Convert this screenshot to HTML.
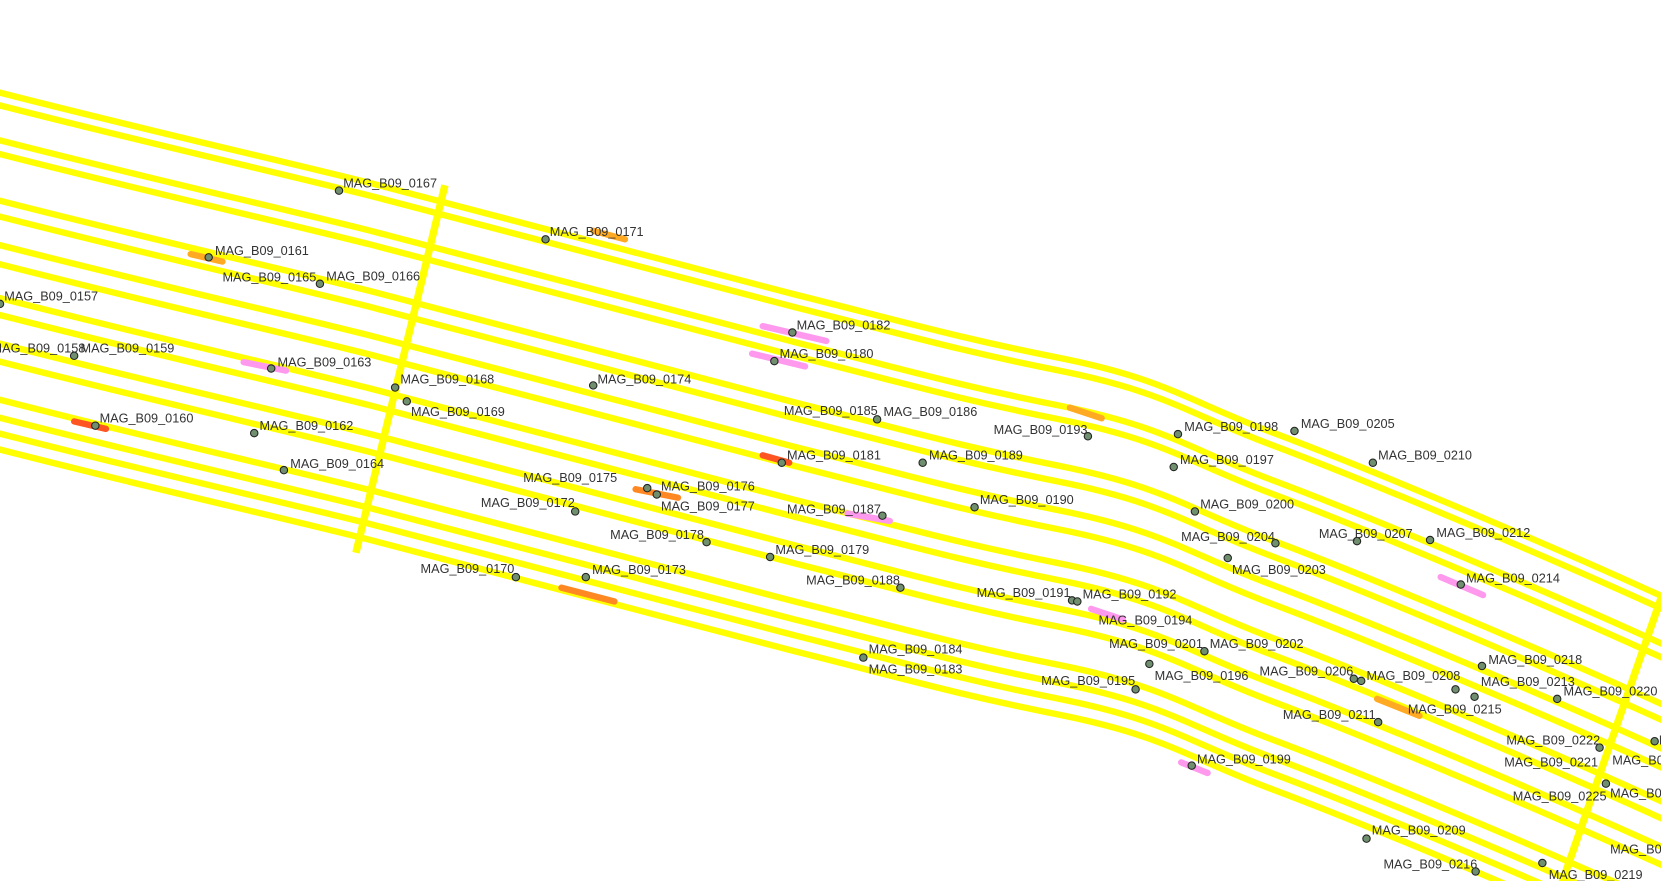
<!DOCTYPE html>
<html><head><meta charset="utf-8"><style>
html,body{margin:0;padding:0;background:#fff;width:1661px;height:881px;overflow:hidden}
svg{display:block}
svg text{font-family:"Liberation Sans",sans-serif;font-size:12px;fill:#333}
</style></head><body>
<svg width="1661" height="881" viewBox="0 0 1568 832" preserveAspectRatio="none" xmlns="http://www.w3.org/2000/svg">
<defs>
<path id="ln" d="M-10,-3 C150,38 250,60 350,85 S650,165 750,190 S900,230 1000,250 S1120,290 1200,320 S1500,440 1680,527" fill="none" stroke="#ffff00" stroke-width="6" stroke-linejoin="round"/>
</defs>
<g>
<use href="#ln" transform="translate(0,88)"/>
<use href="#ln" transform="translate(0,100)"/>
<use href="#ln" transform="translate(0,133)"/>
<use href="#ln" transform="translate(0,146)"/>
<use href="#ln" transform="translate(0,190)"/>
<use href="#ln" transform="translate(0,205)"/>
<use href="#ln" transform="translate(0,232)"/>
<use href="#ln" transform="translate(0,250)"/>
<use href="#ln" transform="translate(0,282)"/>
<use href="#ln" transform="translate(0,298)"/>
<use href="#ln" transform="translate(0,325)"/>
<use href="#ln" transform="translate(0,342)"/>
<use href="#ln" transform="translate(0,378)"/>
<use href="#ln" transform="translate(0,395)"/>
<use href="#ln" transform="translate(0,410)"/>
<use href="#ln" transform="translate(0,425)"/>
</g>
<line x1="420" y1="175" x2="336" y2="522" stroke="#ffff00" stroke-width="7"/>
<line x1="1568" y1="565" x2="1458" y2="881" stroke="#ffff00" stroke-width="7"/>
<g stroke-width="6" stroke-linecap="round" fill="none">
<path d="M230,342 L270,350" stroke="#ff99ee"/>
<path d="M720,308 L780,322" stroke="#ff99ee"/>
<path d="M710,334 L760,346" stroke="#ff99ee"/>
<path d="M1360,545 L1400,562" stroke="#ff99ee"/>
<path d="M1030,575 L1060,585" stroke="#ff99ee"/>
<path d="M1115,720 L1140,730" stroke="#ff99ee"/>
<path d="M800,485 L840,492" stroke="#ff99ee"/>
<path d="M70,398 L100,405" stroke="#ff5522"/>
<path d="M720,430 L745,437" stroke="#ff5522"/>
<path d="M600,462 L640,470" stroke="#ff8822"/>
<path d="M530,555 L580,568" stroke="#ff8822"/>
<path d="M180,240 L210,247" stroke="#ffaa22"/>
<path d="M1300,660 L1340,676" stroke="#ffaa22"/>
<path d="M1010,385 L1040,395" stroke="#ffaa22"/>
<path d="M560,218 L590,226" stroke="#ffaa22"/>
</g>
<g fill="#6f8f6f" stroke="#222" stroke-width="1">
<circle cx="320" cy="180" r="3.5"/><circle cx="515" cy="226" r="3.5"/><circle cx="197" cy="243" r="3.5"/>
<circle cx="302" cy="268" r="3.5"/><circle cx="0" cy="287" r="3.5"/><circle cx="70" cy="336" r="3.5"/>
<circle cx="256" cy="348" r="3.5"/><circle cx="373" cy="366" r="3.5"/><circle cx="384" cy="379" r="3.5"/>
<circle cx="560" cy="364" r="3.5"/><circle cx="90" cy="402" r="3.5"/><circle cx="240" cy="409" r="3.5"/>
<circle cx="268" cy="444" r="3.5"/><circle cx="748" cy="314" r="3.5"/><circle cx="731" cy="341" r="3.5"/>
<circle cx="828" cy="396" r="3.5"/><circle cx="1027" cy="412" r="3.5"/><circle cx="1112" cy="410" r="3.5"/>
<circle cx="1222" cy="407" r="3.5"/><circle cx="738" cy="437" r="3.5"/><circle cx="871" cy="437" r="3.5"/>
<circle cx="1108" cy="441" r="3.5"/><circle cx="1296" cy="437" r="3.5"/><circle cx="611" cy="461" r="3.5"/>
<circle cx="620" cy="467" r="3.5"/><circle cx="543" cy="483" r="3.5"/><circle cx="833" cy="487" r="3.5"/>
<circle cx="920" cy="479" r="3.5"/><circle cx="1128" cy="483" r="3.5"/><circle cx="667" cy="512" r="3.5"/>
<circle cx="727" cy="526" r="3.5"/><circle cx="1204" cy="513" r="3.5"/><circle cx="1281" cy="511" r="3.5"/>
<circle cx="1350" cy="510" r="3.5"/><circle cx="1159" cy="527" r="3.5"/><circle cx="487" cy="545" r="3.5"/>
<circle cx="553" cy="545" r="3.5"/><circle cx="850" cy="555" r="3.5"/><circle cx="1379" cy="552" r="3.5"/>
<circle cx="1012" cy="567" r="3.5"/><circle cx="1017" cy="568" r="3.5"/><circle cx="1137" cy="615" r="3.5"/>
<circle cx="815" cy="621" r="3.5"/><circle cx="1399" cy="629" r="3.5"/><circle cx="1072" cy="651" r="3.5"/>
<circle cx="1085" cy="627" r="3.5"/><circle cx="1278" cy="641" r="3.5"/><circle cx="1285" cy="643" r="3.5"/>
<circle cx="1392" cy="658" r="3.5"/><circle cx="1374" cy="651" r="3.5"/><circle cx="1470" cy="660" r="3.5"/>
<circle cx="1301" cy="682" r="3.5"/><circle cx="1510" cy="706" r="3.5"/><circle cx="1516" cy="740" r="3.5"/>
<circle cx="1125" cy="723" r="3.5"/><circle cx="1290" cy="792" r="3.5"/><circle cx="1393" cy="823" r="3.5"/>
<circle cx="1456" cy="815" r="3.5"/><circle cx="1562" cy="700" r="3.5"/>
</g>
<g>
<text x="324" y="177">MAG_B09_0167</text><text x="519" y="223">MAG_B09_0171</text>
<text x="203" y="241">MAG_B09_0161</text><text x="210" y="266">MAG_B09_0165</text>
<text x="308" y="265">MAG_B09_0166</text><text x="4" y="284">MAG_B09_0157</text>
<text x="-8" y="333">MAG_B09_0158</text><text x="76" y="333">MAG_B09_0159</text>
<text x="262" y="346">MAG_B09_0163</text><text x="378" y="362">MAG_B09_0168</text>
<text x="388" y="393">MAG_B09_0169</text><text x="564" y="362">MAG_B09_0174</text>
<text x="94" y="399">MAG_B09_0160</text><text x="245" y="406">MAG_B09_0162</text>
<text x="274" y="442">MAG_B09_0164</text><text x="752" y="311">MAG_B09_0182</text>
<text x="736" y="338">MAG_B09_0180</text><text x="740" y="392">MAG_B09_0185</text>
<text x="834" y="393">MAG_B09_0186</text><text x="938" y="410">MAG_B09_0193</text>
<text x="1118" y="407">MAG_B09_0198</text><text x="1228" y="404">MAG_B09_0205</text>
<text x="743" y="434">MAG_B09_0181</text><text x="877" y="434">MAG_B09_0189</text>
<text x="1114" y="438">MAG_B09_0197</text><text x="1301" y="434">MAG_B09_0210</text>
<text x="494" y="455">MAG_B09_0175</text><text x="624" y="463">MAG_B09_0176</text>
<text x="624" y="482">MAG_B09_0177</text><text x="454" y="479">MAG_B09_0172</text>
<text x="743" y="485">MAG_B09_0187</text><text x="925" y="476">MAG_B09_0190</text>
<text x="1133" y="480">MAG_B09_0200</text><text x="576" y="509">MAG_B09_0178</text>
<text x="732" y="523">MAG_B09_0179</text><text x="1115" y="511">MAG_B09_0204</text>
<text x="1245" y="508">MAG_B09_0207</text><text x="1356" y="507">MAG_B09_0212</text>
<text x="1163" y="542">MAG_B09_0203</text><text x="397" y="541">MAG_B09_0170</text>
<text x="559" y="542">MAG_B09_0173</text><text x="761" y="552">MAG_B09_0188</text>
<text x="1384" y="550">MAG_B09_0214</text><text x="922" y="564">MAG_B09_0191</text>
<text x="1022" y="565">MAG_B09_0192</text><text x="1037" y="590">MAG_B09_0194</text>
<text x="1047" y="612">MAG_B09_0201</text><text x="1142" y="612">MAG_B09_0202</text>
<text x="820" y="617">MAG_B09_0184</text><text x="820" y="636">MAG_B09_0183</text>
<text x="1405" y="627">MAG_B09_0218</text><text x="983" y="647">MAG_B09_0195</text>
<text x="1090" y="642">MAG_B09_0196</text><text x="1189" y="638">MAG_B09_0206</text>
<text x="1290" y="642">MAG_B09_0208</text><text x="1398" y="648">MAG_B09_0213</text>
<text x="1329" y="674">MAG_B09_0215</text><text x="1476" y="657">MAG_B09_0220</text>
<text x="1211" y="679">MAG_B09_0211</text><text x="1422" y="703">MAG_B09_0222</text>
<text x="1420" y="724">MAG_B09_0221</text><text x="1428" y="756">MAG_B09_0225</text>
<text x="1130" y="721">MAG_B09_0199</text><text x="1295" y="788">MAG_B09_0209</text>
<text x="1306" y="820">MAG_B09_0216</text><text x="1462" y="830">MAG_B09_0219</text>
<text x="1522" y="722">MAG_B09_0</text><text x="1520" y="753">MAG_B09_0</text>
<text x="1520" y="806">MAG_B09_0</text><text x="1566" y="703">MAG_B09_0</text>
</g>
</svg>
</body></html>
